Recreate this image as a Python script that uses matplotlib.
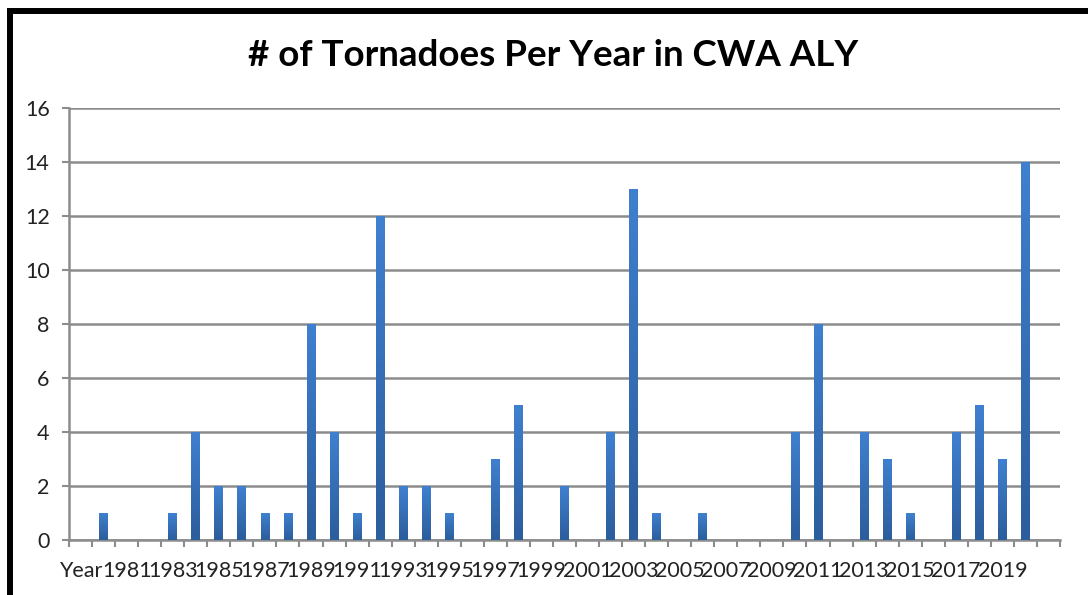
import numpy as np
import matplotlib.pyplot as plt
from matplotlib.lines import Line2D
from matplotlib.colors import LinearSegmentedColormap

# tornado counts per year, CWA ALY (first slot is the header row "Year")
categories = ['Year'] + [str(y) for y in range(1980, 2021)] + ['']
counts = [0,
          1, 0, 0, 1, 4, 2, 2, 1, 1, 8,     # 1980-1989
          4, 1, 12, 2, 2, 1, 0, 3, 5, 0,    # 1990-1999
          2, 0, 4, 13, 1, 0, 1, 0, 0, 0,    # 2000-2009
          4, 8, 0, 4, 3, 1, 0, 4, 5, 3,     # 2010-2019
          14,                               # 2020
          0]
yticks = [0, 2, 4, 6, 8, 10, 12, 14, 16]

plt.rcParams['font.family'] = ['Lato', 'DejaVu Sans']

fig = plt.figure(figsize=(10.88, 5.95), dpi=100)
ax = fig.add_axes([69 / 1088, 1 - 540 / 595, (1060 - 69) / 1088, (540 - 108) / 595])

x = np.arange(len(categories))
bw = 0.38
bars = ax.bar(x, counts, width=bw, color='#3a78c6', zorder=3)

# vertical gradient on each bar, lighter at top
cmap = LinearSegmentedColormap.from_list('bar', ['#2c5d9c', '#3f80d0'])
grad = np.linspace(0, 1, 256).reshape(-1, 1)
for b, v in zip(bars, counts):
    if v <= 0:
        continue
    x0 = b.get_x()
    im = ax.imshow(grad, cmap=cmap, origin='lower', aspect='auto',
                   extent=(x0, x0 + bw, 0, v), zorder=4)
    im.set_clip_path(b)

ax.set_xlim(-0.5, len(categories) - 0.5)
ax.set_ylim(0, 16)

ax.set_yticks(yticks)
ax.tick_params(axis='y', length=5, width=1.5, color='#8c8c8c', labelsize=15.5,
               labelcolor='#222222', pad=9)
ax.yaxis.grid(True, color='#8c8c8c', linewidth=1.8, zorder=0)

# tick marks sit between categories, labels every other category
ax.set_xticks(np.arange(len(categories) + 1) - 0.5)
ax.set_xticklabels([])
ax.set_xticks(x[::2], minor=True)
ax.set_xticklabels(categories[::2], minor=True)
ax.tick_params(axis='x', which='major', length=5, width=1.5, color='#8c8c8c')
ax.tick_params(axis='x', which='minor', length=0, labelsize=15.5,
               labelcolor='#222222', pad=15)

for s in ['top', 'right']:
    ax.spines[s].set_visible(False)
for s in ['left', 'bottom']:
    ax.spines[s].set_color('#8c8c8c')
    ax.spines[s].set_linewidth(1.8)

fig.text(553 / 1088, 1 - 55 / 595, '# of Tornadoes Per Year in CWA ALY',
         ha='center', va='center', fontsize=26.5, fontweight='bold', color='black')

# black frame along left and top edges
fig.add_artist(Line2D([10 / 1088, 10 / 1088], [0, 1 - 10.5 / 595],
                      transform=fig.transFigure, color='black', linewidth=4.3,
                      solid_capstyle='projecting'))
fig.add_artist(Line2D([10 / 1088, 1], [1 - 10.5 / 595, 1 - 10.5 / 595],
                      transform=fig.transFigure, color='black', linewidth=4.3,
                      solid_capstyle='projecting'))

fig.savefig('out.png', dpi=100)
